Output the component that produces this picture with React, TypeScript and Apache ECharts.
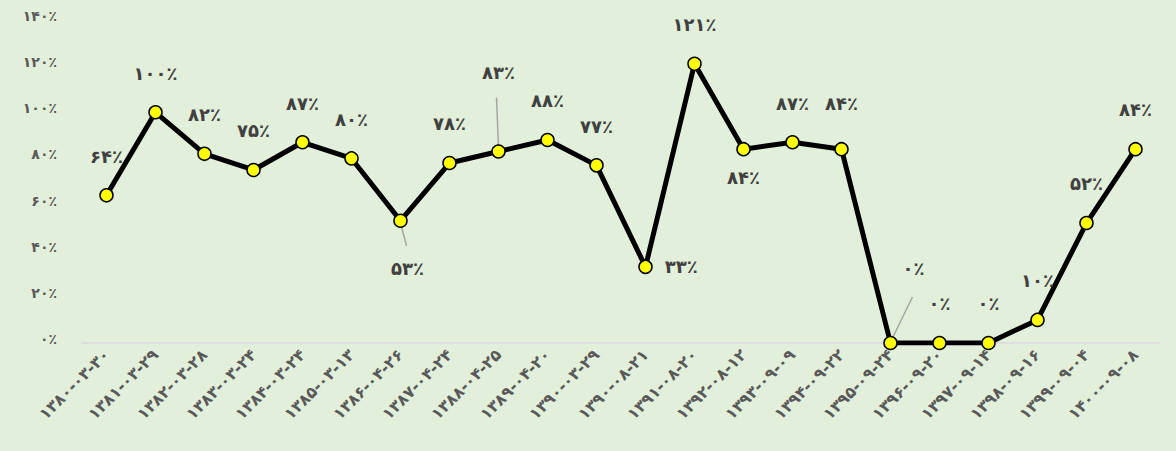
import React, { useEffect, useRef } from "react";
import * as echarts from "echarts";

const categories: string[] = [
  "۱۳۸۰-۰۳-۳۰", "۱۳۸۱-۰۳-۲۹", "۱۳۸۲-۰۳-۲۸", "۱۳۸۳-۰۳-۲۴", "۱۳۸۴-۰۳-۲۴",
  "۱۳۸۵-۰۳-۱۳", "۱۳۸۶-۰۴-۲۶", "۱۳۸۷-۰۴-۲۴", "۱۳۸۸-۰۴-۲۵", "۱۳۸۹-۰۴-۲۰",
  "۱۳۹۰-۰۳-۲۹", "۱۳۹۰-۰۸-۲۱", "۱۳۹۱-۰۸-۲۰", "۱۳۹۲-۰۸-۱۲", "۱۳۹۳-۰۹-۰۹",
  "۱۳۹۴-۰۹-۲۲", "۱۳۹۵-۰۹-۲۴", "۱۳۹۶-۰۹-۲۰", "۱۳۹۷-۰۹-۱۴", "۱۳۹۸-۰۹-۱۶",
  "۱۳۹۹-۰۹-۰۴", "۱۴۰۰-۰۹-۰۸",
];

const values: number[] = [
  64, 100, 82, 75, 87, 80, 53, 78, 83, 88, 77, 33, 121, 84, 87, 84, 0, 0, 0, 10, 52, 84,
];

const yTicks: number[] = [0, 20, 40, 60, 80, 100, 120, 140];

const toFa = (s: string | number) =>
  String(s).replace(/[0-9]/g, (d) => "۰۱۲۳۴۵۶۷۸۹"[Number(d)]);
const pct = (v: number) => toFa(v) + "٪";

// special label placements (by data index)
const labelSpecial: Record<number, any> = {
  6: { position: "bottom", distance: 32, offset: [7, 0] },
  8: { position: "top", distance: 63 },
  11: { position: "right", distance: 12 },
  13: { position: "bottom", distance: 12 },
  15: { position: "top", distance: 29 },
  16: { position: "top", distance: 24, offset: [23, -34] },
};

// leader lines: [index, fromDx, fromDy, toDx, toDy] relative to the point
const leaders: number[][] = [
  [6, 1, 6, 6, 25],
  [8, 0, -4, -2, -54],
  [16, 1, -3, 22, -46],
];

export default function App() {
  const ref = useRef<HTMLDivElement>(null);
  useEffect(() => {
    document.body.style.margin = "0";
    const chart = echarts.init(ref.current!, null, { renderer: "svg" });
    const font = "DejaVu Sans";
    const data = values.map((v, i) => {
      const s = labelSpecial[i];
      const item: any = { value: v };
      if (s) {
        item.label = { position: s.position, distance: s.distance };
        if (s.offset) item.label.offset = s.offset;
      }
      return item;
    });
    chart.setOption({
      animation: false,
      backgroundColor: "#E2EFDA",
      grid: { left: 82, right: 16, top: 20, bottom: 108 },
      xAxis: {
        type: "category",
        data: categories,
        boundaryGap: true,
        axisLine: { show: true, lineStyle: { color: "#d9d9d9", width: 1.5 } },
        axisTick: { show: false },
        axisLabel: {
          rotate: 45,
          interval: 0,
          color: "#595959",
          fontFamily: font,
          fontWeight: "bold",
          fontSize: 16,
          margin: 9,
        },
      },
      yAxis: {
        type: "value",
        min: 0,
        max: yTicks[yTicks.length - 1],
        interval: 20,
        axisLine: { show: false },
        axisTick: { show: false },
        splitLine: { show: false },
        axisLabel: {
          formatter: (v: number) => pct(v),
          color: "#595959",
          fontFamily: font,
          fontWeight: "bold",
          fontSize: 14,
          margin: 25,
          verticalAlign: "bottom",
          lineHeight: 8,
        },
      },
      series: [
        {
          type: "line",
          data,
          symbol: "circle",
          symbolSize: 13,
          lineStyle: { color: "#000000", width: 5 },
          itemStyle: { color: "#FFFF00", borderColor: "#000000", borderWidth: 1.5 },
          label: {
            show: true,
            position: "top",
            distance: 23,
            formatter: (p: any) => pct(p.value),
            color: "#404040",
            fontFamily: font,
            fontWeight: "bold",
            fontSize: 18,
          },
          z: 3,
        },
      ],
    });
    const lines = leaders.map(([idx, fx, fy, tx, ty]) => {
      const [px, py] = chart.convertToPixel({ gridIndex: 0 }, [idx, values[idx]]) as number[];
      return {
        type: "line",
        shape: { x1: px + fx, y1: py + fy, x2: px + tx, y2: py + ty },
        style: { stroke: "#a6a6a6", lineWidth: 1.5 },
        z: 1,
        zlevel: 0,
      };
    });
    chart.setOption({ graphic: lines });
    return () => chart.dispose();
  }, []);
  return <div ref={ref} style={{ width: 1176, height: 451 }} />;
}
